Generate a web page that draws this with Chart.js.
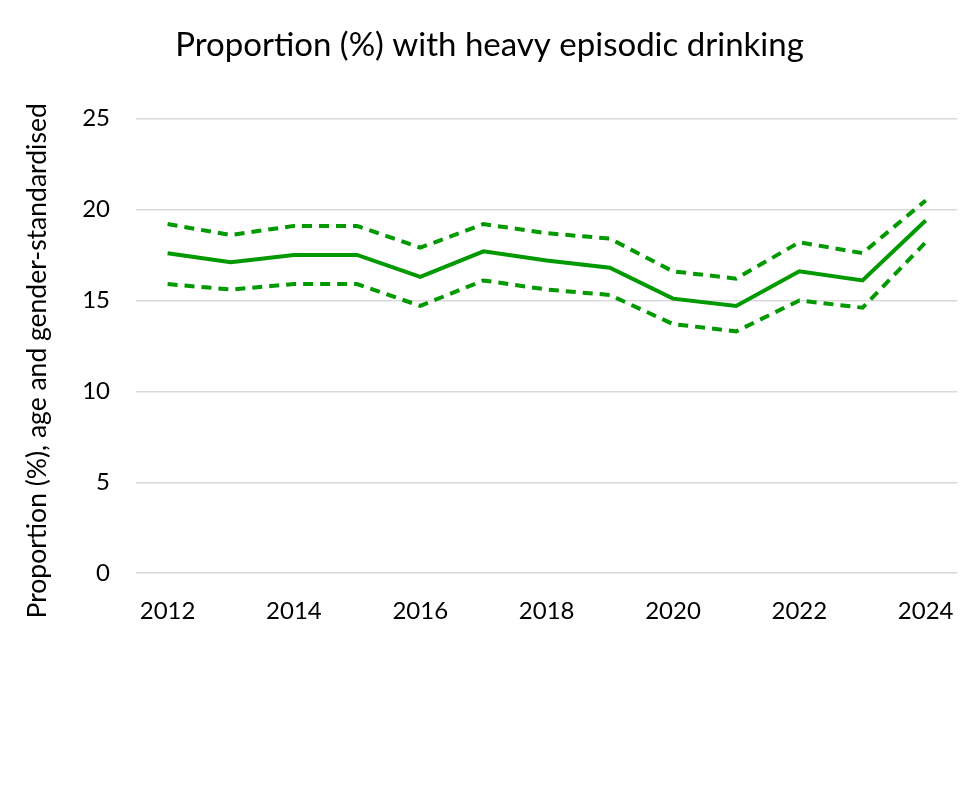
<!DOCTYPE html>
<html>
<head>
<meta charset="utf-8">
<script src="https://cdn.jsdelivr.net/npm/chart.js@4/dist/chart.umd.min.js"></script>
<style>
  html, body { margin: 0; padding: 0; background: #fff; }
  #wrap { width: 970px; height: 808px; position: relative; }
</style>
</head>
<body>
<div id="wrap"><canvas id="chart"></canvas></div>
<script>
/* ── DATA ───────────────────────────────────────────────── */
const years    = ["2012","2013","2014","2015","2016","2017","2018","2019","2020","2021","2022","2023","2024"];
const estimate = [17.6, 17.1, 17.5, 17.5, 16.3, 17.7, 17.2, 16.8, 15.1, 14.7, 16.6, 16.1, 19.4];
const upperCI  = [19.2, 18.6, 19.1, 19.1, 17.9, 19.2, 18.7, 18.4, 16.6, 16.2, 18.2, 17.6, 20.5];
const lowerCI  = [15.9, 15.6, 15.9, 15.9, 14.7, 16.1, 15.6, 15.3, 13.7, 13.3, 15.0, 14.6, 18.2];
const yTicks   = [0, 5, 10, 15, 20, 25];
const yTitle   = "Proportion (%), age and gender-standardised";

const GREEN = "#009900";
const FONT  = "Lato, 'Noto Sans', sans-serif";

/* ── Y TITLE (sits a little below the axis centre, as in the source) ── */
const yTitlePlugin = {
  id: "yTitle",
  afterDraw(chart) {
    const { ctx, chartArea } = chart;
    ctx.save();
    ctx.translate(37, (chartArea.top + chartArea.bottom) / 2 + 15);
    ctx.rotate(-Math.PI / 2);
    ctx.font = `26.5px ${FONT}`;
    ctx.fillStyle = "#000";
    ctx.textAlign = "center";
    ctx.textBaseline = "middle";
    ctx.fillText(yTitle, 0, 0);
    ctx.restore();
  }
};

/* ── CHART ──────────────────────────────────────────────── */
const line = (label, data, dashed) => ({
  label, data,
  borderColor: GREEN,
  borderWidth: 4,
  borderDash: dashed ? [10, 7] : [],
  pointRadius: 0,
  tension: 0,
  fill: false
});

new Chart(document.getElementById("chart"), {
  type: "line",
  data: {
    labels: years,
    datasets: [
      line("Upper CI", upperCI, true),
      line("Estimate", estimate, false),
      line("Lower CI", lowerCI, true)
    ]
  },
  plugins: [yTitlePlugin],
  options: {
    responsive: true, maintainAspectRatio: false, animation: false,
    layout: { padding: { left: 21, right: 12, top: 12, bottom: 166 } },
    plugins: {
      legend: { display: false },
      tooltip: { enabled: false },
      title: {
        display: true,
        text: "Proportion (%) with heavy episodic drinking",
        color: "#000",
        font: { family: FONT, size: 33, weight: "normal" },
        padding: { top: 14, bottom: 53 }
      }
    },
    scales: {
      x: {
        offset: true,
        grid: { display: false },
        border: { display: false },
        ticks: {
          color: "#000",
          font: { family: FONT, size: 24 },
          maxRotation: 0,
          autoSkip: false,
          padding: 16,
          callback: (v, i) => (i % 2 === 0 ? years[i] : "")
        }
      },
      y: {
        min: 0, max: 25,
        afterBuildTicks: s => { s.ticks = yTicks.map(v => ({ value: v })); },
        afterFit: s => { s.width = 115; },
        grid: { color: "#d9d9d9", lineWidth: 1.5, drawTicks: false },
        border: { display: false },
        ticks: { color: "#000", font: { family: FONT, size: 24 }, padding: 26 },
        title: { display: false }
      }
    }
  }
});
</script>
</body>
</html>
